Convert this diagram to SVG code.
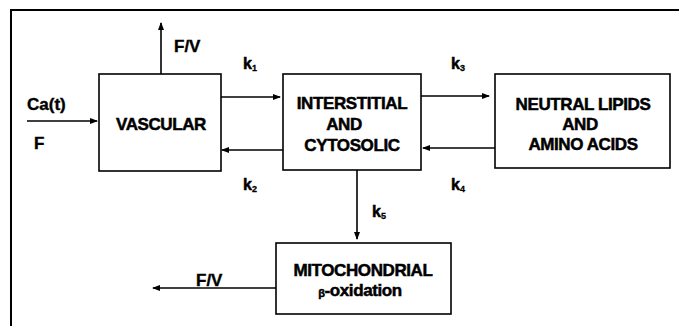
<svg xmlns="http://www.w3.org/2000/svg" width="679" height="326" viewBox="0 0 679 326">
<style>
.box{fill:#fff;stroke:#000;stroke-width:1.6}
.t{font-family:"Liberation Sans",Arial,sans-serif;font-weight:bold;font-size:17px;letter-spacing:-0.4px;fill:#000;stroke:#000;stroke-width:0.5;text-anchor:middle}
.l{font-family:"Liberation Sans",Arial,sans-serif;font-weight:bold;font-size:17px;fill:#000;stroke:#000;stroke-width:0.4}
.k{font-family:"Liberation Sans",Arial,sans-serif;font-weight:bold;font-size:16px;fill:#000;stroke:#000;stroke-width:0.5}
.sub{font-size:9px;stroke-width:0.3}
.c{stroke:#000;stroke-width:1.6;fill:none;marker-end:url(#ah)}
</style>
<defs>
<marker id="ah" markerWidth="8" markerHeight="6" refX="7" refY="3" orient="auto" markerUnits="userSpaceOnUse">
<path d="M0,0 L8,3 L0,6 Z" fill="#000"/>
</marker>
</defs>
<rect width="679" height="326" fill="#fff"/>
<path d="M10,10 H679 M11,10 V326" stroke="#000" stroke-width="2" fill="none"/>
<g id="vascular">
<rect class="box" x="99" y="74" width="122" height="97"/>
<text class="t" x="161" y="130">VASCULAR</text>
</g>
<g id="interstitial">
<rect class="box" x="283" y="74" width="138" height="96"/>
<text class="t" x="352" y="109">INTERSTITIAL</text>
<text class="t" x="344" y="130">AND</text>
<text class="t" x="352" y="151">CYTOSOLIC</text>
</g>
<g id="neutral">
<rect class="box" x="495" y="74" width="175" height="94"/>
<text class="t" x="583" y="110">NEUTRAL LIPIDS</text>
<text class="t" x="580" y="130">AND</text>
<text class="t" x="583" y="150">AMINO ACIDS</text>
</g>
<g id="mitochondrial">
<rect class="box" x="276" y="243" width="175" height="71"/>
<text class="t" x="363" y="276">MITOCHONDRIAL</text>
<text class="t" x="360" y="296"><tspan font-size="11" dy="1">β</tspan><tspan dy="-1">-oxidation</tspan></text>
</g>
<g id="connectors">
<line class="c" x1="27" y1="121" x2="97" y2="121"/>
<line class="c" x1="161" y1="74" x2="161" y2="23"/>
<line class="c" x1="221" y1="97" x2="280" y2="97"/>
<line class="c" x1="283" y1="150" x2="222" y2="150"/>
<line class="c" x1="421" y1="96" x2="489" y2="96"/>
<line class="c" x1="495" y1="148" x2="423" y2="148"/>
<line class="c" x1="357" y1="170" x2="357" y2="239"/>
<line class="c" x1="276" y1="288" x2="153" y2="288"/>
</g>
<g id="labels">
<text class="l" x="27" y="110">Ca(t)</text>
<text class="l" x="34" y="149">F</text>
<text class="l" x="174" y="52">F/V</text>
<text class="l" x="196" y="286">F/V</text>
<text class="k" x="243" y="69">k<tspan class="sub" dy="2">1</tspan></text>
<text class="k" x="243" y="190">k<tspan class="sub" dy="2">2</tspan></text>
<text class="k" x="451" y="69">k<tspan class="sub" dy="2">3</tspan></text>
<text class="k" x="451" y="190">k<tspan class="sub" dy="2">4</tspan></text>
<text class="k" x="372" y="217">k<tspan class="sub" dy="2">5</tspan></text>
</g>
</svg>
